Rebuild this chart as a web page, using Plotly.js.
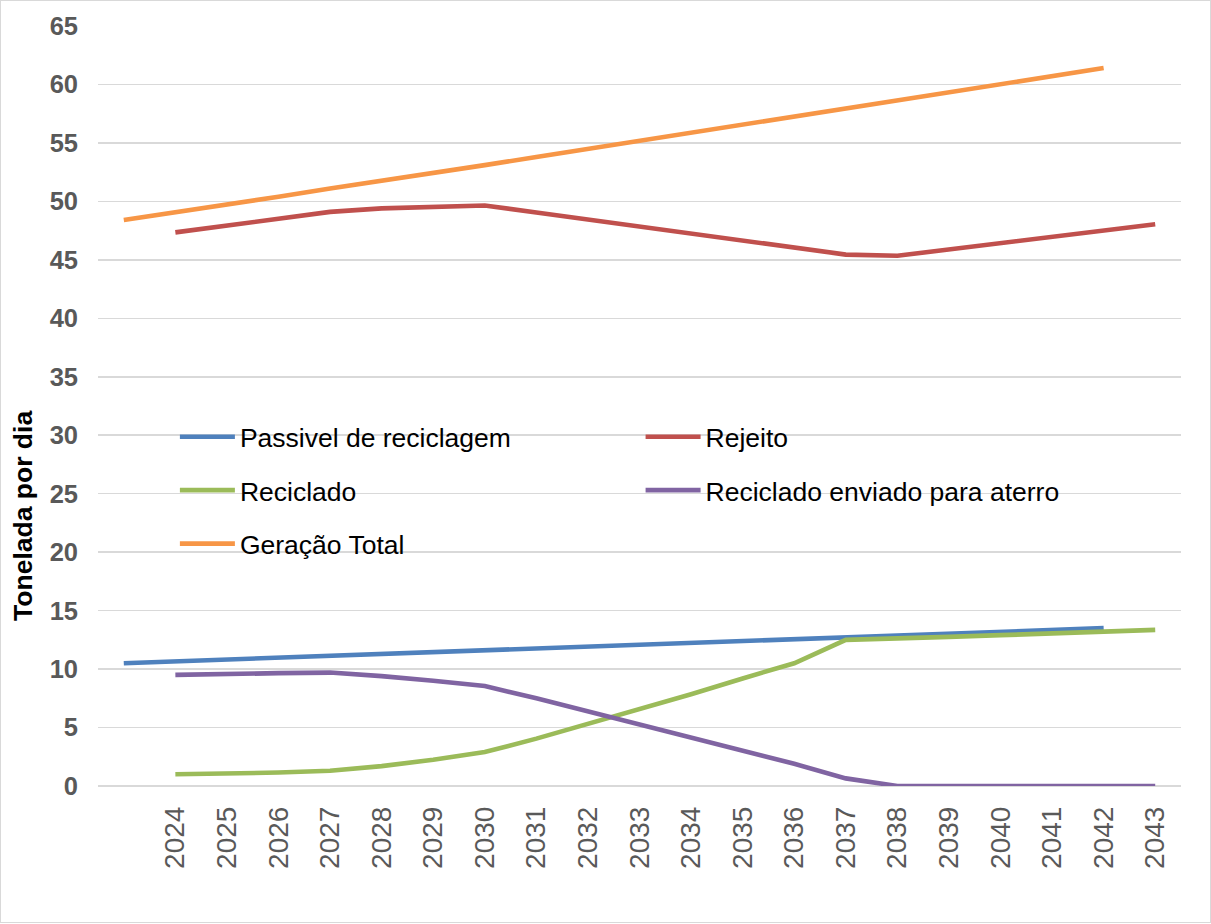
<!DOCTYPE html>
<html>
<head>
<meta charset="utf-8">
<script src="https://cdn.plot.ly/plotly-3.0.1.min.js"></script>
<style>
  html, body { margin: 0; padding: 0; background: #ffffff; }
  #frame { position: absolute; left: 0; top: 0; width: 1209px; height: 921px; border: 1px solid #d9d9d9; background: #ffffff; }
  #chart { width: 1209px; height: 921px; }
</style>
</head>
<body>
<div id="frame"><div id="chart"></div></div>
<script>
// Category axis (first slot is an unlabeled category)
const categories = ["", "2024", "2025", "2026", "2027", "2028", "2029", "2030", "2031", "2032", "2033",
                    "2034", "2035", "2036", "2037", "2038", "2039", "2040", "2041", "2042", "2043"];

// Series (tonelada por dia); each starts at the category named in *Start
const passivelStart = "";
const passivel = [10.5, 10.66, 10.82, 10.98, 11.14, 11.3, 11.46, 11.62, 11.78, 11.94,
                  12.1, 12.26, 12.42, 12.58, 12.74, 12.9, 13.06, 13.22, 13.38, 13.5];

const rejeitoStart = "2024";
const rejeito = [47.35, 47.95, 48.55, 49.1, 49.4, 49.55, 49.65, 49.05, 48.45, 47.85,
                 47.25, 46.65, 46.05, 45.45, 45.35, 45.9, 46.45, 47.0, 47.5, 48.05];

const recicladoStart = "2024";
const reciclado = [1.0, 1.05, 1.15, 1.3, 1.7, 2.25, 2.9, 4.05, 5.3, 6.55,
                   7.85, 9.2, 10.5, 12.5, 12.6, 12.75, 12.9, 13.05, 13.2, 13.35];

const enviadoStart = "2024";
const enviado = [9.5, 9.6, 9.65, 9.7, 9.4, 9.0, 8.55, 7.5, 6.4, 5.3,
                 4.2, 3.1, 1.9, 0.65, 0, 0, 0, 0, 0, 0];

const geracaoStart = "";
const geracao = [48.4, 49.05, 49.7, 50.4, 51.1, 51.75, 52.4, 53.1, 53.8, 54.5,
                 55.15, 55.85, 56.55, 57.25, 57.95, 58.65, 59.35, 60.0, 60.7, 61.4];

const yTicks = [0, 5, 10, 15, 20, 25, 30, 35, 40, 45, 50, 55, 60, 65];

function xsFor(start, vals) {
  const s = categories.indexOf(start);
  return vals.map((_, i) => s + i);
}

const FONT = "Liberation Sans, Arial, Helvetica, sans-serif";
const LW = 4.6;

function tr(name, start, vals, color, legend) {
  return {
    type: "scatter", mode: "lines", name: name,
    x: xsFor(start, vals), y: vals,
    line: { color: color, width: LW },
    legend: legend, legendgroup: name,
    hoverinfo: "skip"
  };
}

const data = [
  tr("Passivel de reciclagem", passivelStart, passivel, "#4F81BD", "legend"),
  tr("Rejeito", rejeitoStart, rejeito, "#C0504D", "legend2"),
  tr("Reciclado", recicladoStart, reciclado, "#9BBB59", "legend"),
  tr("Reciclado enviado para aterro", enviadoStart, enviado, "#8064A2", "legend2"),
  tr("Geração Total", geracaoStart, geracao, "#F79646", "legend")
];

const legendCommon = {
  orientation: "v", xanchor: "left", yanchor: "top",
  bgcolor: "rgba(0,0,0,0)", borderwidth: 0,
  font: { family: FONT, size: 26.5, color: "#000000" },
  itemwidth: 55, tracegroupgap: 16, itemclick: false, itemdoubleclick: false
};

const layout = {
  width: 1209, height: 921,
  margin: { l: 97, r: 29, t: 25, b: 136 },
  paper_bgcolor: "#ffffff", plot_bgcolor: "#ffffff",
  showlegend: true,
  xaxis: {
    range: [-0.5, categories.length - 0.5],
    tickmode: "array",
    tickvals: categories.map((_, i) => i),
    ticktext: categories,
    tickangle: -90,
    tickfont: { family: FONT, size: 28, color: "#595959" },
    ticks: "", showgrid: false, zeroline: false, showline: false,
    ticklabelstandoff: 14,
    fixedrange: true
  },
  yaxis: {
    range: [0, 65],
    tickmode: "array", tickvals: yTicks,
    tickfont: { family: FONT, size: 25.5, color: "#595959", weight: "bold" },
    ticks: "", showgrid: true, gridcolor: "#D9D9D9", gridwidth: 1.5,
    zeroline: true, zerolinecolor: "#D9D9D9", zerolinewidth: 1.5,
    showline: false, ticklabelstandoff: 19,
    fixedrange: true
  },
  legend: Object.assign({}, legendCommon, { x: 0.071, y: 0.4908 }),
  legend2: Object.assign({}, legendCommon, { x: 0.501, y: 0.4908 }),
  annotations: [{
    text: "Tonelada por dia", textangle: -90,
    xref: "paper", yref: "paper", x: -0.0693, y: 0.3553,
    xanchor: "center", yanchor: "middle", showarrow: false,
    font: { family: FONT, size: 26.5, color: "#000000", weight: "bold" }
  }]
};

Plotly.newPlot("chart", data, layout, { displayModeBar: false, staticPlot: true });
</script>
</body>
</html>
